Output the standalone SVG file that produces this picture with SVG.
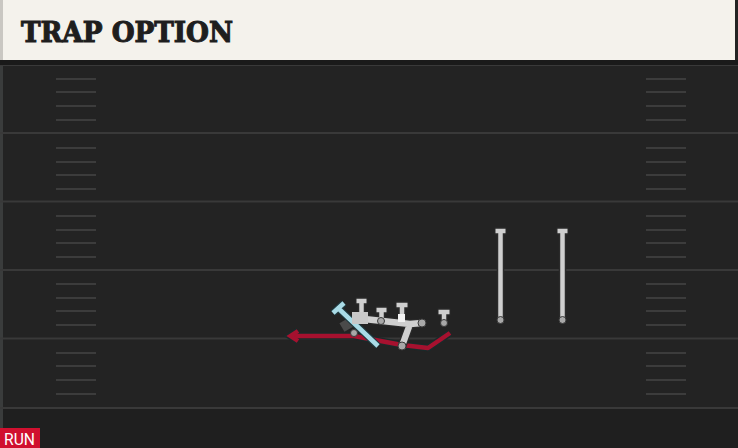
<svg xmlns="http://www.w3.org/2000/svg" width="738" height="448" viewBox="0 0 738 448">
<defs>
<style>
.yard{stroke:#393939;stroke-width:2;fill:none}
.hash{stroke:#3c3c3c;stroke-width:2;fill:none}
.pl{stroke:#2a2a2a;stroke-width:7.5;fill:none;stroke-linecap:butt}
.pf{stroke:#cfcfcf;stroke-width:4.5;fill:none}
.dot{fill:#a8a8a8;stroke:#3a3a3a;stroke-width:1}
</style>
</defs>
<rect width="738" height="448" fill="#232323"/>
<rect x="0" y="408" width="738" height="40" fill="#1f1f1f"/>
<rect x="0" y="60" width="3" height="388" fill="#3a3c3c"/>
<g id="field">
<line class="yard" x1="0" y1="65" x2="738" y2="65"/>
<line class="yard" x1="0" y1="133" x2="738" y2="133"/>
<line class="yard" x1="0" y1="201.5" x2="738" y2="201.5"/>
<line class="yard" x1="0" y1="270" x2="738" y2="270"/>
<line class="yard" x1="0" y1="338.5" x2="738" y2="338.5"/>
<line class="yard" x1="0" y1="408" x2="738" y2="408"/>
<path class="hash" d="M56,79H96M56,92H96M56,106H96M56,120H96M56,148H96M56,162H96M56,175H96M56,189H96M56,216H96M56,230H96M56,243H96M56,257H96M56,284H96M56,298H96M56,311H96M56,325H96M56,353H96M56,366H96M56,380H96M56,394H96"/>
<path class="hash" d="M646,79H686M646,92H686M646,106H686M646,120H686M646,148H686M646,162H686M646,175H686M646,189H686M646,216H686M646,230H686M646,243H686M646,257H686M646,284H686M646,298H686M646,311H686M646,325H686M646,353H686M646,366H686M646,380H686M646,394H686"/>
</g>
<g id="header">
<rect x="0" y="60" width="738" height="5" fill="#1a1a1a"/>
<rect x="2" y="0" width="733" height="60" fill="#f4f2ec"/>
<rect x="0" y="0" width="3" height="60" fill="#c9c7c2"/>
<text x="21" y="42" font-family="DejaVu Serif Condensed, DejaVu Serif, serif" font-weight="bold" font-size="28" fill="#1e1e1e" stroke="#1e1e1e" stroke-width="1" textLength="212" lengthAdjust="spacingAndGlyphs">TRAP OPTION</text>
</g>
<g id="connectors">
<polyline points="450,333 428,348 402,345 354,336 290,336" fill="none" stroke="#1a2a2a" stroke-width="7" stroke-linejoin="round"/>
<polyline points="298,331 290,336 298,341" fill="none" stroke="#1a2a2a" stroke-width="7" stroke-linejoin="miter"/>
<polyline points="450,333 428,348 402,345 354,336 291,336" fill="none" stroke="#a6112f" stroke-width="4.5" stroke-linejoin="round"/>
<polyline points="298,331 290.5,336 298,341" fill="none" stroke="#a6112f" stroke-width="4.5" stroke-linejoin="miter"/>
</g>
<g id="wr1">
<path class="pl" d="M494.5,231H506.5M500.5,231V320"/>
<path class="pf" d="M495.5,231H505.5M500.5,231V320"/>
<circle class="dot" cx="500.5" cy="320" r="3.5"/>
</g>
<g id="wr2">
<path class="pl" d="M556.5,231H568.5M562.5,231V320"/>
<path class="pf" d="M557.5,231H567.5M562.5,231V320"/>
<circle class="dot" cx="562.5" cy="320" r="3.5"/>
</g>
<g id="te">
<path class="pl" d="M437.5,312H450.5M444,312V322"/>
<path class="pf" d="M438.5,312H449.5M444,312V322"/>
<circle class="dot" cx="444" cy="323" r="3.5"/>
</g>
<g id="qb">
<rect x="341" y="319" width="13" height="10" fill="#4a4a4a" transform="rotate(-30 348 324)"/>
</g>
<g id="rb">
<path d="M333,313L344,303M338,308L378,346" stroke="#1f3a40" stroke-width="7" fill="none"/>
<path d="M333,313L344,303M338,308L378,346" stroke="#a9dbe6" stroke-width="4.5" fill="none"/>
</g>
<g id="line">
<path class="pl" d="M355.5,301H367.5M361.5,301V318M375.5,310H387.5M381.5,310V320M395.5,305H408.5M402,305V320"/>
<path d="M355,318L410,324L422,323M410,324L402,346" stroke="#2a2a2a" stroke-width="9" fill="none" stroke-linejoin="round"/>
<path class="pf" d="M356.5,301H366.5M361.5,301V318M376.5,310H386.5M381.5,310V320M396.5,305H407.5M402,305V320"/>
<path d="M355,318L410,324L422,323M410,324L402,346" stroke="#cfcfcf" stroke-width="6.5" fill="none" stroke-linejoin="round"/>
<rect x="352" y="312" width="16" height="12" fill="#c8c8c8"/>
<rect x="398" y="314" width="7" height="8" fill="#f2f2f2"/>
<circle class="dot" cx="422" cy="323" r="4"/>
<circle class="dot" cx="402" cy="346" r="4"/>
<circle class="dot" cx="381" cy="321" r="3.5"/>
<circle class="dot" cx="354" cy="333" r="3.5"/>
</g>
<g id="badge">
<rect x="0" y="428" width="40" height="20" fill="#d0102f"/>
<text x="4" y="445" font-family="Roboto, 'Liberation Sans', sans-serif" font-size="16" fill="#ffffff" textLength="31" lengthAdjust="spacingAndGlyphs">RUN</text>
</g>
</svg>
